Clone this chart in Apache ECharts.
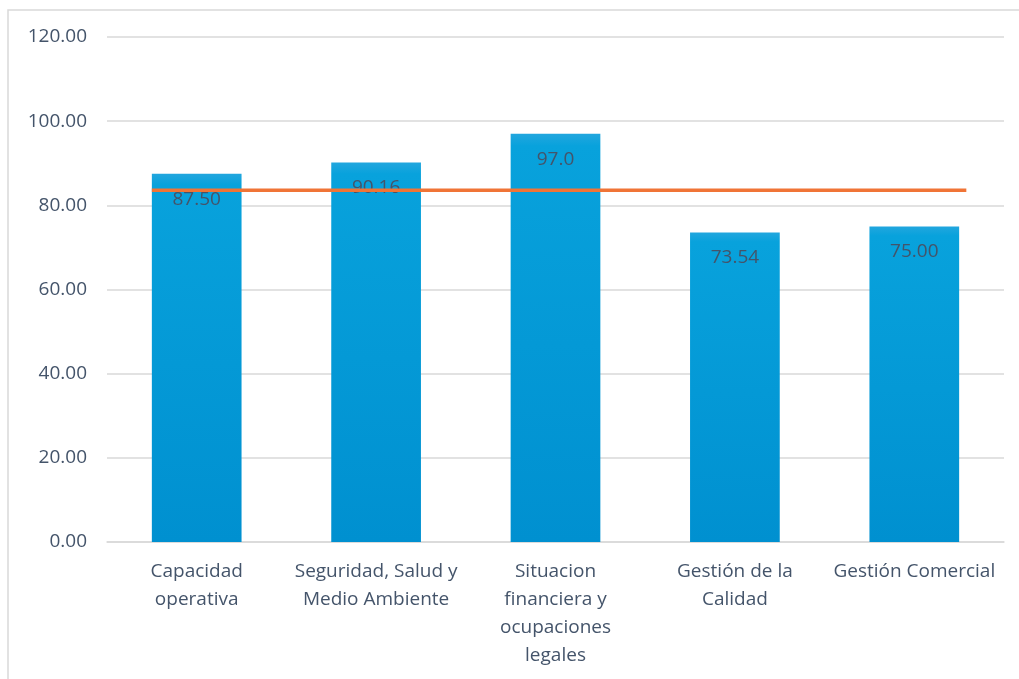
<!DOCTYPE html>
<html>
<head>
<meta charset="utf-8">
<script src="https://cdn.jsdelivr.net/npm/echarts@6/dist/echarts.min.js"></script>
<style>html,body{margin:0;padding:0;background:#fff}#c{width:1019px;height:679px}</style>
</head>
<body>
<div id="c"></div>
<script>
const categories = ['Capacidad\noperativa', 'Seguridad, Salud y\nMedio Ambiente', 'Situacion\nfinanciera y\nocupaciones\nlegales', 'Gestión de la\nCalidad', 'Gestión Comercial'];
const values = [87.50, 90.16, 97.0, 73.54, 75.00];
const valueLabels = ['87.50', '90.16', '97.0', '73.54', '75.00'];
const yTicks = [0, 20, 40, 60, 80, 100, 120];
const threshold = 83.6;
const thresholdSpan = [0.25, 4.79];

const txt = '#44546A';
const font = '"Open Sans", "Noto Sans", sans-serif';
const chart = echarts.init(document.getElementById('c'));
chart.setOption({
  animation: false,
  grid: { left: 107, right: 15, top: 37, bottom: 137 },
  graphic: [{
    type: 'rect', shape: { x: 8, y: 10, width: 1100, height: 800 },
    style: { fill: 'none', stroke: '#D9D9D9', lineWidth: 1.5 }, z: -10, silent: true
  }],
  xAxis: [{
    type: 'category', data: categories,
    axisLine: { show: true, lineStyle: { color: '#D9D9D9', width: 1.5 } },
    axisTick: { show: false },
    axisLabel: { color: txt, fontSize: 19, fontFamily: font, lineHeight: 28, margin: 16, interval: 0 }
  }, {
    type: 'value', min: 0, max: categories.length, show: false
  }],
  yAxis: {
    type: 'value', min: yTicks[0], max: yTicks[yTicks.length - 1], interval: 20,
    axisLine: { show: false }, axisTick: { show: false },
    splitLine: { lineStyle: { color: '#D9D9D9', width: 1.5 } },
    axisLabel: { color: txt, fontSize: 19, fontFamily: font, margin: 20, formatter: v => v.toFixed(2) }
  },
  series: [{
    type: 'bar', data: values, barWidth: '50%', z: 2,
    itemStyle: {
      color: new echarts.graphic.LinearGradient(0, 0, 0, 1, [
        { offset: 0, color: '#22A6DE' },
        { offset: 0.03, color: '#08A2DC' },
        { offset: 1, color: '#0090D0' }
      ])
    },
    label: {
      show: true, position: 'insideTop', distance: 16, color: txt, fontSize: 19, fontFamily: font,
      formatter: p => valueLabels[p.dataIndex]
    }
  }, {
    type: 'line', xAxisIndex: 1, z: 5, symbol: 'none',
    data: thresholdSpan.map(x => [x, threshold]),
    lineStyle: { color: '#F07436', width: 3.5 }
  }]
});
</script>
</body>
</html>
